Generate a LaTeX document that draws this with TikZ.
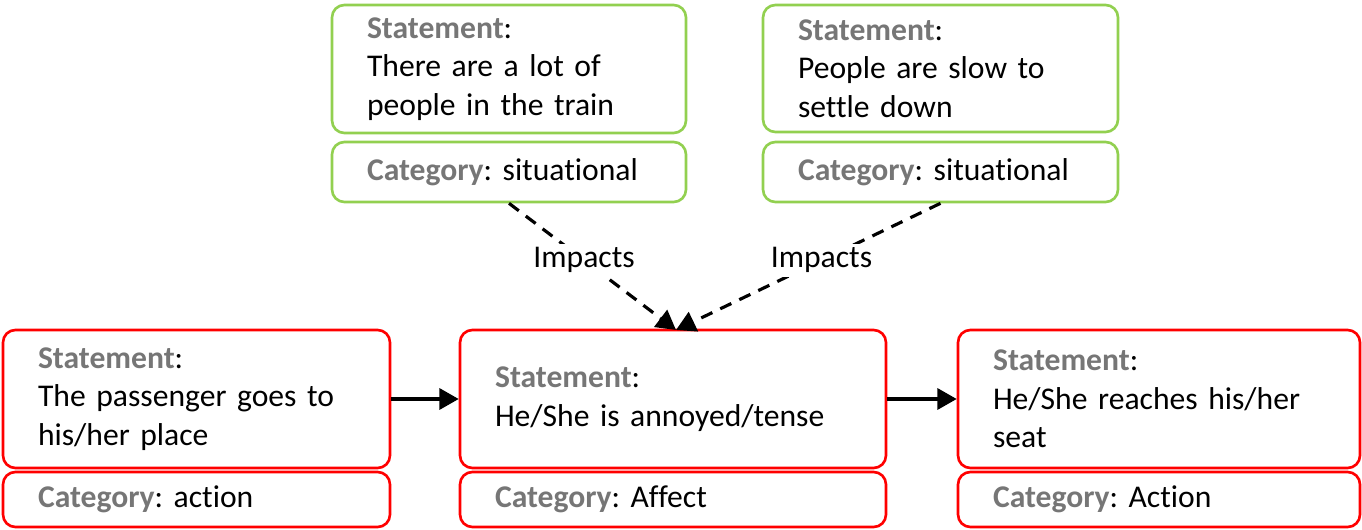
\documentclass[tikz,border=0pt]{standalone}
\usepackage{fontspec}
\setmainfont{Carlito}[Ligatures=NoCommon]
\usepackage{xcolor}
\usetikzlibrary{arrows.meta, positioning, shapes}
\definecolor{boxgreen}{RGB}{146,208,80}
\definecolor{boxred}{RGB}{255,0,0}
\definecolor{keygray}{RGB}{118,118,118}
\newcommand{\key}[1]{\textcolor{keygray}{\bfseries #1}:}
\frenchspacing

\begin{document}
\begin{tikzpicture}[x=0.02cm, y=-0.02cm,
  box/.style={draw, line width=1.5pt, rounded corners=7pt, inner xsep=0.7cm,
    align=left, font=\fontsize{18}{22}\selectfont},
  green/.style={box, draw=boxgreen},
  red/.style={box, draw=boxred},
  impact/.style={-{Triangle[length=11pt,width=12pt]}, line width=1.8pt, dash pattern=on 7pt off 5pt},
  flow/.style={-{Triangle[length=11pt,width=12pt]}, line width=1.8pt},
  lbl/.style={fill=white, font=\fontsize{18}{22}\selectfont, inner sep=2pt}]
\useasboundingbox (0,0) rectangle (1362,530);

% Top statements
\node[green, minimum width=7.08cm, minimum height=2.56cm, text width=5.68cm] (tl) at (509,69)
  {\key{Statement}\\There are a lot of\\people in the train};
\node[green, minimum width=7.08cm, minimum height=1.2cm, text width=5.68cm, inner xsep=0.65cm] (tlc) at (509,172)
  {\key{Category} situational};
\node[green, minimum width=7.1cm, minimum height=2.54cm, text width=5.7cm] (tr) at (940.5,68.5)
  {\key{Statement}\\People are slow to\\settle down};
\node[green, minimum width=7.1cm, minimum height=1.2cm, text width=5.7cm, inner xsep=0.65cm] (trc) at (940.5,172)
  {\key{Category} situational};

% Bottom row
\node[red, minimum width=7.74cm, minimum height=2.76cm, text width=6.34cm] (bl) at (196.5,399)
  {\key{Statement}\\The passenger goes to\\his/her place};
\node[red, minimum width=7.74cm, minimum height=1.1cm, text width=6.34cm] (blc) at (196.5,499.5)
  {\key{Category} action};
\node[red, minimum width=8.52cm, minimum height=2.76cm, text width=7.12cm] (mid) at (673,399)
  {\key{Statement}\\He/She is annoyed/tense};
\node[red, minimum width=8.52cm, minimum height=1.1cm, text width=7.12cm] (midc) at (673,499.5)
  {\key{Category} Affect};
\node[red, minimum width=8.04cm, minimum height=2.76cm, text width=6.64cm] (br) at (1159,399)
  {\key{Statement}\\He/She reaches his/her\\seat};
\node[red, minimum width=8.04cm, minimum height=1.1cm, text width=6.64cm] (brc) at (1159,499.5)
  {\key{Category} Action};

% Connectors
\coordinate (hit) at (676,330);
\draw[impact] (tlc.south) -- node[lbl, pos=0.45] {Impacts} (hit);
\draw[impact] (trc.south) -- node[lbl, pos=0.45] {Impacts} (hit);
\draw[flow] (bl) -- (mid);
\draw[flow] (mid) -- (br);
\end{tikzpicture}
\end{document}
